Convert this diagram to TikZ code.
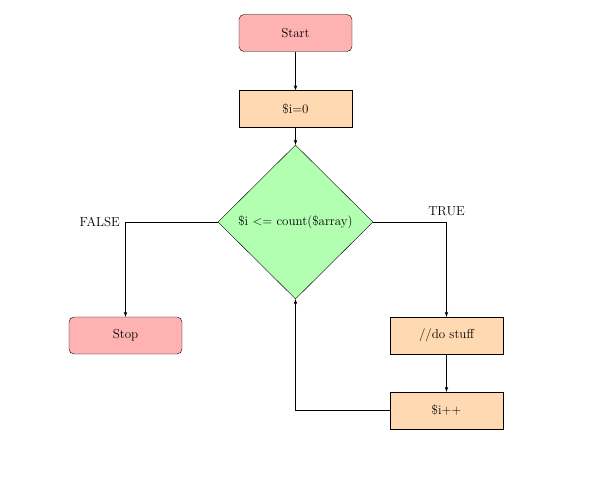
\documentclass[tikz,border=0pt]{standalone}
\usetikzlibrary{shapes.geometric,arrows.meta}
\begin{document}
\begin{tikzpicture}[x=1pt,y=-1pt,
  base/.style={draw=black, minimum width=113pt, minimum height=37pt, font=\fontsize{13}{15}\selectfont, inner sep=0pt},
  termbox/.style={base, rounded corners=5pt, fill=red!30},
  procbox/.style={base, fill=orange!30},
  decbox/.style={draw=black, diamond, fill=green!30, minimum width=155pt, minimum height=154pt, inner sep=0pt, aspect=1, font=\fontsize{13}{15}\selectfont},
  arr/.style={-{Stealth[length=5pt,width=3.5pt]}, line width=0.6pt},
  lbl/.style={font=\fontsize{13}{15}\selectfont}]
\useasboundingbox (0,0) rectangle (594,494);
\node[termbox] (start) at (295.5,33) {Start};
\node[procbox] (init) at (295.5,109) {\$i=0};
\node[decbox] (dec) at (295.5,222) {\$i <= count(\$array)};
\node[termbox] (stop) at (125.5,335.5) {Stop};
\node[procbox] (do) at (446.5,335.5) {//do stuff};
\node[procbox] (inc) at (446.5,410.5) {\$i++};
\coordinate (fc) at (125.5,222);
\coordinate (tc) at (446.5,222);
\coordinate (lc) at (295.5,410.5);
\node[lbl, anchor=east] (flbl) at (fc) {FALSE\,};
\node[lbl, anchor=south] (tlbl) at ([yshift=3pt]tc) {TRUE};
\draw[arr] (start) -- (init);
\draw[arr] (init) -- (dec);
\draw[arr] (dec.west) -- (fc) -- (stop);
\draw[arr] (dec.east) -- (tc) -- (do);
\draw[arr] (do) -- (inc);
\draw[arr] (inc.west) -- (lc) -- (dec.south);
\end{tikzpicture}
\end{document}
